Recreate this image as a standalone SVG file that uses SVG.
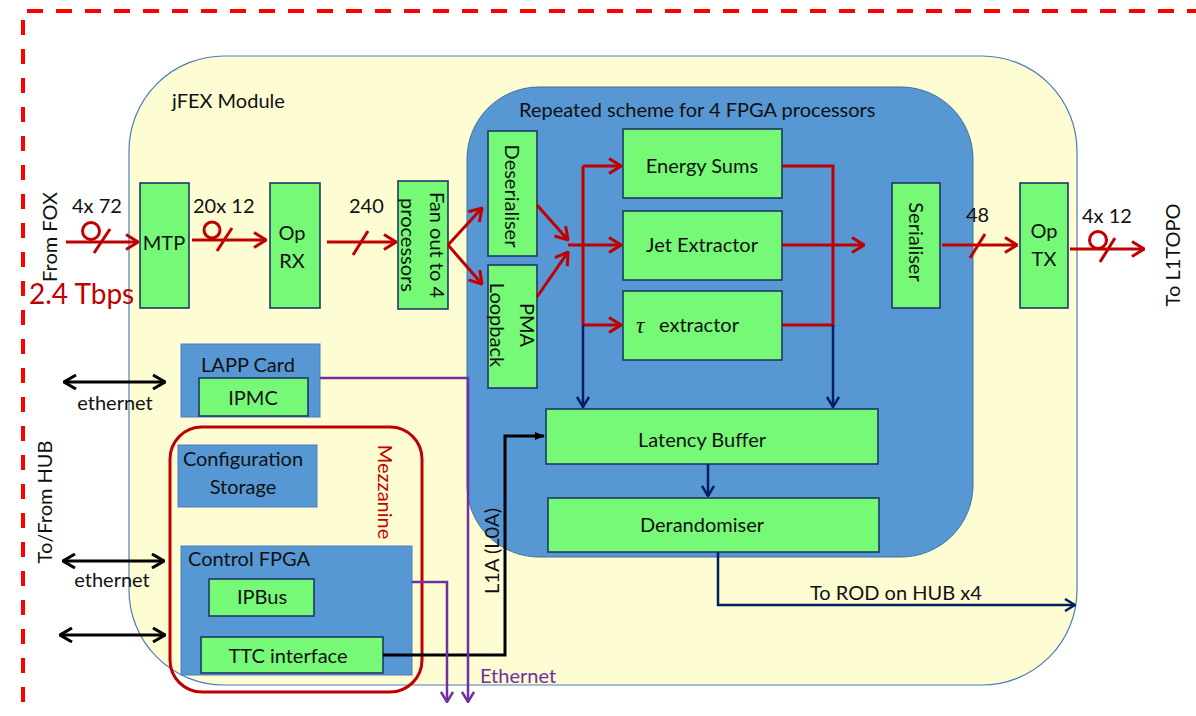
<svg xmlns="http://www.w3.org/2000/svg" width="1196" height="716" viewBox="0 0 1196 716">
<style>
text{font-family:Lato,"Liberation Sans",sans-serif;fill:#111;font-size:20px}
.c{text-anchor:middle}
.g{fill:#76F977;stroke:#1F3864;stroke-width:1.6}
.b{fill:#5797D3;stroke:#4A7EBB;stroke-width:1}
.red{fill:none;stroke:#C00000;stroke-width:3}
.nv{fill:none;stroke:#002060;stroke-width:2.5}
.bk{fill:none;stroke:#000;stroke-width:3}
.pu{fill:none;stroke:#7030A0;stroke-width:2.5}
</style>
<defs>
<marker id="ar" viewBox="0 0 14 18" refX="13" refY="9" markerWidth="14" markerHeight="18" markerUnits="userSpaceOnUse" orient="auto"><path d="M1,1.5 L13,9 L1,16.5" fill="none" stroke="#C00000" stroke-width="3"/></marker>
<marker id="an" viewBox="0 0 12 14" refX="11" refY="7" markerWidth="12" markerHeight="14" markerUnits="userSpaceOnUse" orient="auto"><path d="M1,1 L11,7 L1,13" fill="none" stroke="#002060" stroke-width="2.5"/></marker>
<marker id="ab" viewBox="0 0 14 16" refX="13" refY="8" markerWidth="14" markerHeight="16" markerUnits="userSpaceOnUse" orient="auto-start-reverse"><path d="M1,1 L13,8 L1,15" fill="none" stroke="#000" stroke-width="3"/></marker>
<marker id="abf" viewBox="0 0 10 10" refX="9" refY="5" markerWidth="10" markerHeight="10" markerUnits="userSpaceOnUse" orient="auto"><path d="M0,1 L10,5 L0,9 Z" fill="#000"/></marker>
<marker id="ap" viewBox="0 0 12 14" refX="11" refY="7" markerWidth="12" markerHeight="14" markerUnits="userSpaceOnUse" orient="auto"><path d="M1,1 L11,7 L1,13" fill="none" stroke="#7030A0" stroke-width="2.5"/></marker>
</defs>

<g id="frame">
<path d="M27,11 H1196" fill="none" stroke="#FF0000" stroke-width="4" stroke-dasharray="16 13"/>
<path d="M23,20 V706" fill="none" stroke="#FF0000" stroke-width="4" stroke-dasharray="15 14"/>
</g>

<g id="module">
<rect x="129" y="56" width="948" height="629" rx="95" ry="95" fill="#FEFCD2" stroke="#4A7EBB" stroke-width="1.2"/>
<text x="172" y="108">jFEX Module</text>
</g>

<g id="processors">
<rect x="467" y="87" width="506" height="470" rx="72" ry="72" fill="#5797D3" stroke="#41719C" stroke-width="1"/>
<text x="519" y="117">Repeated scheme for 4 FPGA processors</text>
</g>

<g id="mezzanine">
<rect x="170" y="427" width="252" height="265" rx="32" ry="32" fill="none" stroke="#C00000" stroke-width="3"/>
<text class="c" transform="translate(385,492) rotate(90)" dy="7" style="fill:#C00000">Mezzanine</text>
</g>

<g id="mtp"><rect class="g" x="140" y="183" width="49" height="125"/><text class="c" x="164" y="250">MTP</text></g>
<g id="oprx"><rect class="g" x="270" y="183" width="50" height="125"/><text class="c" x="292" y="240">Op</text><text class="c" x="292" y="268">RX</text></g>
<g id="fanout"><rect class="g" x="398" y="181" width="50" height="128"/>
<text class="c" transform="translate(423,245) rotate(90)"><tspan x="0" y="-7">Fan out to 4</tspan><tspan x="0" y="22">processors</tspan></text></g>
<g id="deserialiser"><rect class="g" x="488" y="131" width="49" height="125"/><text class="c" transform="translate(512,196) rotate(90)" dy="7">Deserialiser</text></g>
<g id="pma"><rect class="g" x="488" y="265" width="49" height="123"/>
<text class="c" transform="translate(512,325) rotate(90)"><tspan x="0" y="-8">PMA</tspan><tspan x="0" y="22">Loopback</tspan></text></g>
<g id="energy"><rect class="g" x="623" y="129" width="159" height="69"/><text class="c" x="702" y="173">Energy Sums</text></g>
<g id="jet"><rect class="g" x="623" y="211" width="159" height="69"/><text class="c" x="702" y="252">Jet Extractor</text></g>
<g id="tau"><rect class="g" x="623" y="291" width="159" height="69"/><text x="636" y="333" style="font-family:'Liberation Serif',serif;font-style:italic;font-size:23px">τ</text><text x="659" y="332">extractor</text></g>
<g id="latency"><rect class="g" x="546" y="409" width="332" height="55"/><text class="c" x="702" y="447">Latency Buffer</text></g>
<g id="derand"><rect class="g" x="548" y="498" width="331" height="54"/><text class="c" x="702" y="532">Derandomiser</text></g>
<g id="serialiser"><rect class="g" x="892" y="183" width="48" height="125"/><text class="c" transform="translate(916,242) rotate(90)" dy="7">Serialiser</text></g>
<g id="optx"><rect class="g" x="1020" y="183" width="48" height="125"/><text class="c" x="1044" y="238">Op</text><text class="c" x="1044" y="266">TX</text></g>

<g id="lapp"><rect class="b" x="181" y="344" width="139" height="73"/><text class="c" x="248" y="372">LAPP Card</text>
<rect class="g" x="199" y="378" width="109" height="38"/><text class="c" x="253" y="405">IPMC</text></g>
<g id="config"><rect class="b" x="178" y="445" width="139" height="62"/><text class="c" x="243" y="466">Configuration</text><text class="c" x="243" y="494">Storage</text></g>
<g id="control"><rect class="b" x="181" y="546" width="231" height="129"/><text x="188" y="566">Control FPGA</text>
<rect class="g" x="209" y="579" width="105" height="37"/><text class="c" x="262" y="604">IPBus</text>
<rect class="g" x="201" y="637" width="182" height="36"/><text class="c" x="288" y="663">TTC interface</text></g>

<g id="connectors">
<path class="red" d="M66,242 H138" marker-end="url(#ar)"/>
<circle cx="91" cy="231" r="8.5" fill="none" stroke="#C00000" stroke-width="3"/>
<path class="red" d="M94,253 L110,229"/>
<path class="red" d="M192,240 H266" marker-end="url(#ar)"/>
<circle cx="212" cy="230" r="8" fill="none" stroke="#C00000" stroke-width="3"/>
<path class="red" d="M217,251 L232,228"/>
<path class="red" d="M327,242 H396" marker-end="url(#ar)"/>
<path class="red" d="M353,255 L368,231"/>
<path class="red" d="M448,245 L482,208" marker-end="url(#ar)"/>
<path class="red" d="M448,245 L482,284" marker-end="url(#ar)"/>
<path class="red" d="M537,205 L568,240" marker-end="url(#ar)"/>
<path class="red" d="M537,297 L568,252" marker-end="url(#ar)"/>
<path class="red" d="M568,245 H621" marker-end="url(#ar)"/>
<path class="red" d="M583,166 V325"/>
<path class="red" d="M583,166 H621" marker-end="url(#ar)"/>
<path class="red" d="M583,325 H621" marker-end="url(#ar)"/>
<path class="red" d="M782,166 H833 V325 H782"/>
<path class="red" d="M782,245 H864" marker-end="url(#ar)"/>
<path class="red" d="M942,245 H1017" marker-end="url(#ar)"/>
<path class="red" d="M970,258 L985,234"/>
<path class="red" d="M1070,249 H1144" marker-end="url(#ar)"/>
<circle cx="1098" cy="240" r="8.5" fill="none" stroke="#C00000" stroke-width="3"/>
<path class="red" d="M1100,262 L1115,238"/>
<path class="nv" d="M583,325 V407" marker-end="url(#an)"/>
<path class="nv" d="M833,325 V407" marker-end="url(#an)"/>
<path class="nv" d="M708,464 V496" marker-end="url(#an)"/>
<path class="nv" d="M718,552 V605 H1075" marker-end="url(#an)"/>
<path class="bk" d="M383,655 H505 V436 H544" marker-end="url(#abf)"/>
<path class="bk" d="M64,382 H165" marker-start="url(#ab)" marker-end="url(#ab)"/>
<path class="bk" d="M63,561 H164" marker-start="url(#ab)" marker-end="url(#ab)"/>
<path class="bk" d="M60,635 H165" marker-start="url(#ab)" marker-end="url(#ab)"/>
<path class="pu" d="M320,378 H468 V702" marker-end="url(#ap)"/>
<path class="pu" d="M412,582 H447 V702" marker-end="url(#ap)"/>
</g>

<g id="labels">
<text x="72" y="213">4x 72</text>
<text x="193" y="213">20x 12</text>
<text x="349" y="213">240</text>
<text x="966" y="222">48</text>
<text x="1082" y="223">4x 12</text>
<text x="29" y="304" style="fill:#C00000;font-size:28px">2.4 Tbps</text>
<text class="c" transform="translate(50,237) rotate(-90)" dy="7">From FOX</text>
<text class="c" transform="translate(45,502) rotate(-90)" dy="7">To/From HUB</text>
<text class="c" transform="translate(1173,255) rotate(-90)" dy="7">To L1TOPO</text>
<text class="c" transform="translate(492,551) rotate(-90)" dy="7">L1A (L0A)</text>
<text class="c" x="115" y="410">ethernet</text>
<text class="c" x="112" y="587">ethernet</text>
<text x="810" y="600">To ROD on HUB x4</text>
<text x="480" y="683" style="fill:#7030A0">Ethernet</text>
</g>
</svg>
